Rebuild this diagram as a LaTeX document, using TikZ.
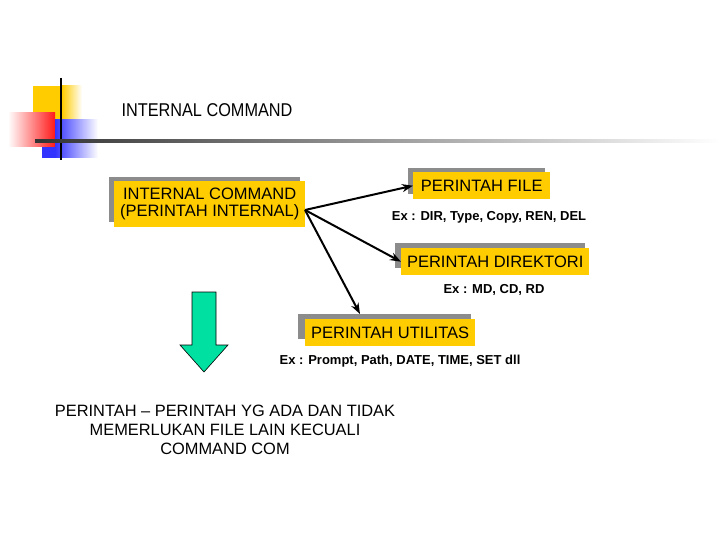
\documentclass[tikz,border=0pt]{standalone}
\usepackage{fontspec}
\setmainfont{Liberation Sans}
\usetikzlibrary{arrows.meta}
\definecolor{ybox}{RGB}{255,204,0}
\definecolor{gshadow}{RGB}{140,140,140}
\definecolor{garrow}{RGB}{0,224,160}
\tikzset{
 ybx/.style={fill=ybox,inner sep=0pt,anchor=north west,align=center,font=\fontsize{16.5}{17}\selectfont},
 shad/.style={fill=gshadow},
 conn/.style={-{Stealth[length=11pt,width=8pt]},line width=2pt},
 ex/.style={font=\fontsize{13}{15}\selectfont\bfseries}
}
\begin{document}
\begin{tikzpicture}[x=1pt,y=-1pt]
\useasboundingbox (0,0) rectangle (720,540);
% decoration
\fill[ybox] (33,86) rectangle (80,133);
\shade[left color=ybox,right color=white] (62,86) rectangle (82,133);
\shade[left color=white,right color=red!90] (8,113) rectangle (55,147);
\shade[left color=blue!80,right color=white] (55,120) rectangle (98,158);
\fill[blue!80] (42,147) rectangle (55,158);
\draw[line width=2.5pt] (61,78) -- (61,160);
\shade[left color=black!80,right color=white] (35,139.5) rectangle (720,142.5);
\node[anchor=west,font=\fontsize{18.5}{20}\selectfont] (title) at (118,110) {\addfontfeature{FakeStretch=0.88}INTERNAL COMMAND};
% boxes with shadows
\fill[shad] (109,177) rectangle (300,222);
\node[ybx,minimum width=191pt,minimum height=46pt] (ic) at (114,181) {INTERNAL COMMAND\\(PERINTAH INTERNAL)};
\fill[shad] (408,168) rectangle (545,194);
\node[ybx,minimum width=137pt,minimum height=27pt] (pf) at (413,172) {PERINTAH FILE};
\node[ex] (e1) at (489,217) {Ex : DIR, Type, Copy, REN, DEL};
\fill[shad] (395,243) rectangle (585,268);
\node[ybx,minimum width=188pt,minimum height=27pt] (pd) at (401,248) {PERINTAH DIREKTORI};
\node[ex] (e2) at (494,290) {Ex : MD, CD, RD};
\fill[shad] (298,314) rectangle (471,339);
\node[ybx,minimum width=170pt,minimum height=27pt] (pu) at (305,319) {PERINTAH UTILITAS};
\node[ex] (e3) at (400,361) {Ex : Prompt, Path, DATE, TIME, SET dll};
\coordinate (src) at (305,210);
\draw[conn] (src) -- (pf.west);
\draw[conn] (src) -- (pd.west);
\draw[conn] (src) -- (360,314);
% green arrow
\draw[fill=garrow,line width=0.6pt] (192,292) -- (216,292) -- (216,345) -- (228,345) -- (204,372) -- (180,345) -- (192,345) -- cycle;
\node[align=center,font=\fontsize{16.4}{19}\selectfont] (note) at (225,430) {PERINTAH -- PERINTAH YG ADA DAN TIDAK\\MEMERLUKAN FILE LAIN KECUALI\\COMMAND COM};
\end{tikzpicture}
\end{document}
